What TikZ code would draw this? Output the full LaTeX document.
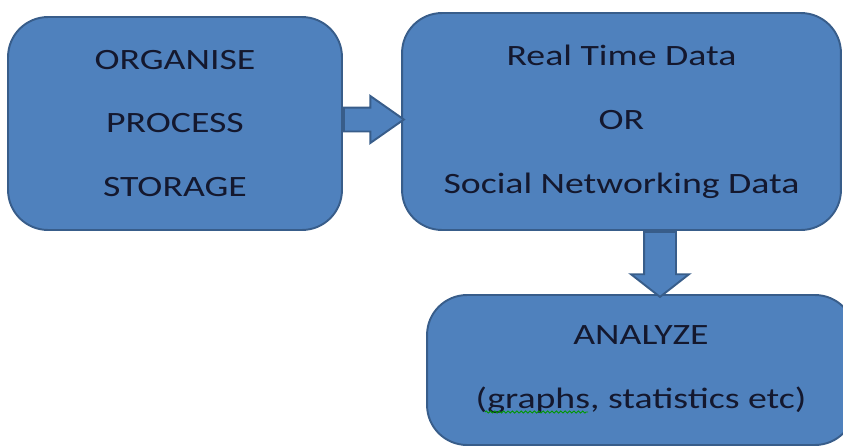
\documentclass[tikz,border=0pt]{standalone}
\usepackage{fontspec}
\setmainfont{Carlito}[FakeStretch=1.28]
\usetikzlibrary{positioning, shapes.arrows, calc, decorations.pathmorphing}
\definecolor{boxblue}{HTML}{4F81BD}
\definecolor{boxedge}{HTML}{385D8A}
\definecolor{boxtext}{HTML}{14182E}

\tikzset{
  stagebox/.style={draw=boxedge, fill=boxblue, line width=1.1pt,
    rounded corners=0.8cm, align=center, text=boxtext, inner sep=0pt,
    font=\fontsize{16.8}{36.4}\selectfont},
  flowarrow/.style={single arrow, draw=boxedge, fill=boxblue,
    line width=1.1pt, inner xsep=0pt, anchor=tail}
}

\begin{document}
\begin{tikzpicture}[x=0.02cm, y=-0.02cm]
  \useasboundingbox (0,0) rectangle (843,447);
  % collecting side
  \node[stagebox, minimum width=6.68cm, minimum height=4.26cm] (organise)
    at (175,123.5) {ORGANISE\\PROCESS\\STORAGE};
  % data sources
  \node[stagebox, minimum width=8.78cm, minimum height=4.34cm] (realtime)
    at (621.5,121.5) {Real Time Data\\OR\\Social Networking Data};
  % analysis step
  \node[stagebox, minimum width=8.56cm, minimum height=3.0cm] (analyze)
    at (641,370) {ANALYZE\\(graphs, statistics etc)};
  % block arrows between the boxes
  \node[flowarrow, minimum height=1.2cm, inner ysep=0.22cm,
    single arrow head extend=0.23cm, single arrow tip angle=70]
    (orgtoreal) at ($(organise.east)+(0,-4)$) {};
  \node[flowarrow, rotate=-90, minimum height=1.3cm, inner ysep=0.3cm,
    single arrow head extend=0.26cm, single arrow tip angle=104]
    (realtoana) at ($(realtime.south)+(38.5,0)$) {};
  % spell-check squiggle
  \draw[green!60!black, line width=0.5pt, decorate,
    decoration={zigzag, amplitude=0.6pt, segment length=2.5pt}]
    (485,412) -- (588,412);
\end{tikzpicture}
\end{document}
